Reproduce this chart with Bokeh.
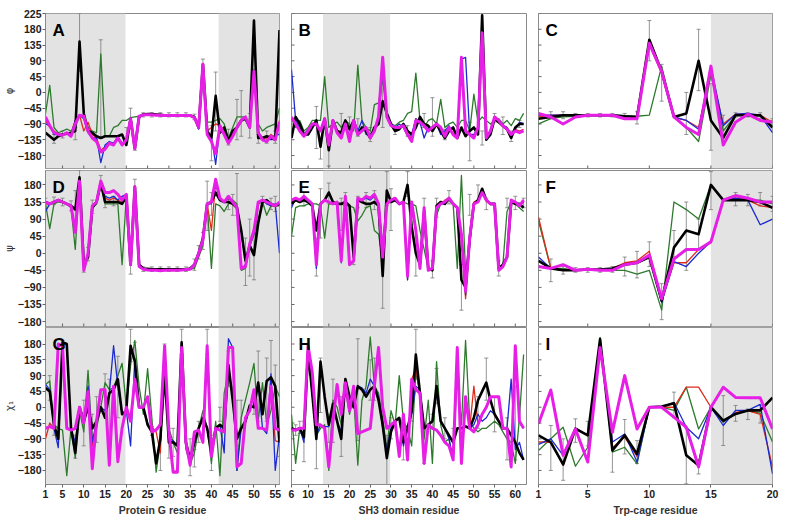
import math
from bokeh.plotting import figure
from bokeh.layouts import column, row
from bokeh.models import BoxAnnotation, Whisker, ColumnDataSource, Label, FixedTicker, TeeHead
from bokeh.embed import file_html
from bokeh.resources import INLINE

# ---------------- residues / ticks ----------------
res_pg = list(range(1, 57))
res_sh3 = list(range(6, 63))
res_tc = list(range(1, 21))
xticks_pg = [1, 5, 10, 15, 20, 25, 30, 35, 40, 45, 50, 55]
xticks_sh3 = [6, 10, 15, 20, 25, 30, 35, 40, 45, 50, 55, 60]
xticks_tc = [1, 5, 10, 15, 20]
yticks_phi = [-180, -135, -90, -45, 0, 45, 90, 135, 180, 225]
yticks_ang = [-180, -135, -90, -45, 0, 45, 90, 135, 180]
shade_pg = [(1, 19.8), (41.7, 56)]
shade_sh3 = [(13.6, 29.8)]
shade_tc = [(15, 20)]

# ---------------- Panel A: phi, Protein G ----------------
A_black = [-115,-125,-135,-125,-120,-118,-115,-110,145,-60,
           -110,-115,-125,-130,-125,-125,-125,-125,-120,-150,
           -75,-160,-70,-63,-62,-62,-63,-64,-65,-65,
           -65,-66,-65,-65,-66,-70,-100,80,-110,-130,
           -10,-115,-100,-140,-110,-100,-80,-75,-100,205,
           -130,-130,-125,-130,-135,178]
A_magenta = [-70,-95,-115,-120,-122,-115,-125,-90,-65,-68,
             -110,-130,-140,-170,-162,-145,-150,-130,-150,-135,
             -75,-160,-68,-64,-64,-64,-65,-65,-66,-66,
             -66,-66,-66,-66,-66,-72,-100,80,-120,-140,
             -175,-95,-120,-145,-125,-100,-80,-70,-100,60,
             -115,-135,-140,-125,-135,-85]
A_blue = [-90,-95,-120,-120,-120,-115,-120,-80,-65,-75,
          -115,-130,-130,-200,-150,-140,-145,-125,-145,-135,
          -75,-160,-68,-64,-64,-64,-65,-65,-66,-66,
          -66,-66,-66,-66,-66,-72,-105,75,-115,-125,
          -205,-100,-115,-145,-120,-100,-80,-70,-100,60,
          -115,-130,-125,-135,-120,-120]
A_red = [-80,-100,-110,-120,-120,-115,-115,-80,-65,-110,
         -85,-120,-130,-165,-155,-145,-145,-130,-145,-135,
         -75,-160,-68,-64,-64,-64,-65,-65,-66,-66,
         -66,-66,-66,-66,-66,-72,-100,80,-110,-100,
         -90,-95,-110,-140,-120,-100,-80,-70,-100,60,
         -115,-130,-130,-120,-130,-80]
A_green = [-60,20,-100,-115,-110,-105,-110,-100,-65,-70,
           -100,-110,-115,110,-125,-125,-100,-95,-80,-80,
           -72,-70,-68,-65,-65,-65,-65,-65,-65,-65,
           -65,-65,-65,-65,-66,-70,-95,80,-85,-85,
           -80,-75,-90,-130,-100,-70,-70,-70,-100,65,
           -90,-110,-100,-95,-90,-45]
A_err = [(3,-145,-120),(5,-130,-110),(8,-135,-100),(9,60,225),(14,-130,150),(20,-140,-100),
         (21,-85,-45),(22,-165,-150),(24,-70,-58),(26,-70,-58),(28,-70,-58),(30,-70,-58),
         (32,-70,-58),(34,-70,-58),(36,-78,-62),(38,60,95),(40,-195,-95),(41,-110,58),
         (44,-150,-105),(46,-135,-20),(47,-125,5),(49,-130,-60),(51,-145,-120),(53,-145,-110),(55,-145,-110)]

# ---------------- Panel B: phi, SH3 ----------------
B_black = [-130,-70,-90,-120,-120,-100,-80,-155,-75,-165,
           -80,-110,-115,-80,-105,-80,-120,-100,-110,-130,
           -100,-90,-25,-60,-90,-110,-105,-90,-110,-120,
           -100,-70,-90,-95,-110,-90,-110,-130,-110,-100,
           -130,-100,-125,-110,-100,-120,220,-135,-120,-75,
           -85,-95,-105,-130,-100,-90,-90]
B_magenta = [-70,-90,-110,-125,-110,-90,-90,-110,-75,-150,
             -80,-115,-130,-90,-140,-80,-120,-110,-100,-130,
             -110,-70,100,-70,-95,-100,-100,-95,-120,-140,
             -80,-85,-95,-110,-100,-90,-100,-125,-100,-120,
             -130,100,-110,-120,-130,-100,170,-130,-110,-70,
             -80,-95,-105,-120,-110,-115,-110]
B_blue = [65,-80,-100,-120,-105,-90,-95,-110,-75,-140,
          -85,-110,-125,-85,-130,-80,-110,-80,-120,-120,
          -110,-75,60,-65,-90,-100,-90,-100,-125,-120,
          -75,-85,-130,-100,-105,-90,-120,-110,-95,-120,
          -125,95,100,-120,-120,-100,170,-125,-110,-70,
          -80,-95,-100,-120,-105,-85,-90]
B_red = [-75,-90,-105,-120,-110,-90,-90,-110,-75,-145,
         -80,-115,-125,-90,-135,-80,-115,-110,-100,-125,
         -105,-70,80,-70,-95,-100,-100,-95,-120,-130,
         -75,-90,-95,-105,-100,-90,-100,-115,-100,-120,
         -125,95,-110,-120,-125,-100,170,-125,-110,-70,
         -80,-95,-100,-120,-105,-110,-105]
B_green = [-75,-100,-80,-110,-100,-80,-80,-80,45,-100,
           -90,-85,-100,-80,-90,-110,78,-80,-100,-110,
           -35,-30,40,-60,-90,-95,-85,-80,-60,-55,
           55,-80,-100,-80,-75,-90,-20,-100,-90,-85,
           -100,-80,-80,-110,-5,-85,-70,-80,-90,-80,
           -75,-90,-80,-95,-75,-80,-60]
B_err = [(12,-160,-40),(13,-190,-130),(15,-210,-120),(18,-125,-60),(20,-120,-70),(22,-125,-75),
         (25,-140,-100),(28,-100,35),(31,-120,-100),(34,-125,-95),(38,-100,-60),(40,-125,-15),
         (43,-135,-105),(49,-195,-85),(52,-150,-110),(55,-85,-60),(57,-120,-70),(59,-140,-110),(61,-100,-80)]

# ---------------- Panel C: phi, Trp-cage ----------------
C_black = [-75,-70,-65,-65,-65,-65,-65,-68,-70,150,60,-70,-60,90,-80,-130,-65,-65,-65,-100]
C_magenta = [-60,-70,-90,-70,-65,-65,-65,-75,-75,140,60,-70,-100,-120,75,-150,-85,-62,-80,-85]
C_blue = [-65,-65,-65,-65,-65,-65,-65,-68,-70,140,60,-70,-80,-105,75,-95,-62,-60,-65,-115]
C_red = [-70,-65,-65,-66,-65,-65,-66,-68,-70,135,55,-72,-80,-100,60,-90,-62,-62,-65,-85]
C_green = [-90,-75,-70,-68,-65,-65,-65,-66,-68,-65,75,-70,-100,-140,50,-110,-65,-65,-68,-95]
C_err = [(2,-75,-55),(3,-75,-55),(4,-70,-60),(5,-70,-60),(6,-70,-60),(7,-70,-60),(8,-70,-60),
         (9,-90,-55),(10,90,205),(11,-25,80),(13,-120,0),(14,5,180),(15,-165,25),(16,-120,-65),
         (17,-70,-58),(18,-70,-58),(19,-75,-58),(20,-80,-75)]

# ---------------- Panel D: psi, Protein G ----------------
D_black = [135,130,135,140,135,130,125,115,200,-30,
           -10,120,135,185,135,135,135,135,130,150,
           -30,175,-30,-40,-41,-42,-42,-42,-42,-42,
           -42,-42,-42,-42,-40,-30,0,40,130,135,
           160,140,135,135,130,120,60,-20,20,-5,
           80,135,140,130,125,130]
D_magenta = [135,130,135,140,135,130,125,55,190,-45,
             0,125,135,190,160,160,165,155,140,155,
             -30,175,-35,-42,-44,-45,-45,-46,-45,-45,
             -45,-45,-44,-43,-42,-30,0,35,130,135,
             195,145,135,150,135,120,-40,-35,25,60,
             135,140,135,130,125,135]
D_blue = [110,130,135,140,135,130,125,60,185,-40,
          0,125,135,185,150,145,150,140,150,155,
          -30,175,-35,-42,-44,-45,-45,-46,-45,-45,
          -45,-45,-44,-43,-42,-30,0,35,130,130,
          185,140,135,145,135,120,-40,-30,20,50,
          135,140,130,125,130,0]
D_red = [130,130,135,140,135,130,125,60,190,-40,
         0,120,135,185,145,140,145,140,135,155,
         -30,175,-35,-42,-44,-45,-45,-46,-45,-45,
         -45,-45,-44,-43,-42,-30,0,35,130,60,
         185,140,135,145,135,120,-40,-35,20,50,
         135,140,135,125,125,130]
D_green = [130,65,130,135,135,130,120,10,195,-40,
           -10,120,130,185,130,130,130,130,-30,150,
           -30,175,-30,-40,-42,-42,-43,-43,-43,-43,
           -43,-43,-43,-42,-42,-40,-10,20,130,-40,
           130,125,110,130,140,130,-45,-40,20,0,
           130,135,100,125,125,125]
D_err = [(1,125,145),(3,128,148),(5,125,145),(7,112,138),(8,60,165),(9,175,218),(10,-50,-15),
         (11,-20,15),(12,105,140),(14,165,205),(15,120,150),(17,125,150),(21,-55,-20),(22,155,195),
         (24,-48,-36),(26,-48,-36),(28,-48,-36),(30,-48,-36),(32,-48,-36),(34,-48,-36),(36,-45,-15),
         (37,-15,20),(38,10,55),(39,60,190),(40,100,160),(44,115,150),(45,100,155),(46,100,210),
         (48,-85,40),(49,-60,90),(50,-70,60),(52,125,150),(54,115,145),(55,110,150)]

# ---------------- Panel E: psi, SH3 ----------------
E_black = [130,140,135,140,135,125,60,130,140,160,
           135,130,130,135,125,-10,140,135,130,130,
           135,125,-60,165,135,140,130,135,180,70,
           0,-30,110,-40,-45,125,135,130,145,130,
           120,-70,-90,40,130,140,170,140,130,130,
           -40,-30,-10,135,130,130,120]
E_magenta = [140,145,140,150,140,130,-30,130,140,135,
             130,135,-20,150,-30,-20,145,140,150,145,
             155,130,-10,130,140,145,130,135,-60,135,
             60,-40,120,-45,-40,120,130,135,145,130,
             120,50,-100,40,130,135,160,140,130,130,
             -45,-35,-10,140,135,125,140]
E_blue = [120,145,140,145,140,130,-40,130,140,135,
          130,135,-25,150,-30,-20,145,140,145,140,
          150,130,20,130,140,145,130,135,-70,135,
          60,-40,120,-45,-40,120,130,135,145,130,
          120,50,-110,40,130,135,160,140,130,130,
          -45,-35,-10,140,135,125,135]
E_red = [135,145,140,150,140,130,-30,130,140,135,
         130,135,-20,150,-30,-20,145,140,150,145,
         150,130,-10,130,140,145,130,135,-70,135,
         60,-40,120,-45,-40,120,130,140,145,130,
         120,50,-120,40,135,140,160,140,130,130,
         -45,-35,-10,140,135,125,135]
E_green = [45,120,125,125,130,130,130,125,40,130,
           130,130,130,125,125,120,85,100,120,125,
           60,50,-20,135,135,140,130,135,130,130,
           125,60,10,-40,-40,100,130,130,140,130,
           -40,205,-50,20,130,140,165,140,130,130,
           -40,-30,110,135,130,120,110]
E_err = [(9,125,160),(12,-60,40),(13,40,170),(15,130,185),(18,60,145),(19,100,160),(21,-30,30),
         (22,120,150),(24,120,160),(26,115,165),(28,-145,30),(29,125,215),(30,60,170),(34,150,215),
         (36,-60,40),(38,60,145),(40,-65,-20),(41,95,145),(44,130,165),(47,-150,-30),(49,100,155),
         (51,140,180),(53,115,145),(56,-60,-20),(58,120,145),(60,115,150),(62,120,145)]

# ---------------- Panel F: psi, Trp-cage ----------------
F_black = [-20,-40,-45,-45,-43,-43,-40,-30,-25,-10,-125,15,60,50,180,140,140,140,135,120]
F_magenta = [-35,-40,-30,-45,-42,-45,-45,-30,-25,-5,-120,-15,10,10,30,140,152,145,135,135]
F_blue = [-10,-40,-45,-45,-43,-43,-40,-30,-25,-10,-130,-22,-35,0,30,140,145,140,75,90]
F_red = [95,-40,-45,-45,-43,-43,-40,-25,-20,5,-125,-25,-25,10,30,140,150,140,125,120]
F_green = [85,-40,-40,-45,-43,-43,-45,-45,-55,-45,-150,135,115,90,180,140,140,140,140,130]
F_err = [(2,-75,-15),(3,-55,-35),(4,-50,-38),(5,-50,-38),(6,-50,-38),(7,-50,-35),(8,-60,-10),
         (9,-65,5),(10,-35,30),(11,-175,-80),(12,-10,60),(13,-45,135),(14,10,90),(15,115,215),
         (17,125,160),(18,125,155),(19,125,160),(20,110,150)]

# ---------------- Panel G: chi1, Protein G ----------------
G_black = [55,45,-50,-90,185,180,-60,-130,0,-40,
           0,-60,-40,0,-30,40,50,80,-20,-10,
           175,130,0,0,-50,-70,-160,-90,100,-100,
           -100,-110,185,-100,-150,-100,-60,-30,-60,-130,
           -60,-50,-60,120,20,-90,-60,-40,5,0,
           70,-20,75,85,60,-100]
G_magenta = [-60,-55,-60,180,175,-60,-65,-60,0,-45,
             45,-175,-40,50,50,-165,60,-155,-60,0,
             -40,80,0,0,30,-70,-65,-50,175,-70,
             -185,-185,170,-100,-165,-70,-65,-100,175,-140,
             -60,-65,-70,170,170,-170,-160,-30,-10,50,
             -60,-60,-65,60,-60,-65]
G_blue = [65,50,-60,-115,175,-60,-60,-100,0,-40,
          60,-100,-40,0,-10,40,175,60,-20,-10,
          -110,140,0,0,-45,-70,-160,-90,90,-90,
          -95,-110,175,-100,-150,-100,-60,-30,-60,-130,
          -60,-50,-130,195,170,-180,-60,-40,5,0,
          70,-60,-75,95,-180,-80]
G_red = [-90,-45,-60,175,175,-60,-65,-60,0,-45,
         45,-110,-40,50,50,-165,60,-155,-60,0,
         -40,80,0,0,30,-55,-70,-130,175,-70,
         -185,-180,170,-100,-165,-70,-65,-100,175,-140,
         -60,-65,-70,170,170,-165,-160,-30,-10,50,
         -60,-60,-65,60,-95,-100]
G_green = [65,75,-50,-60,-65,-195,-60,-145,-10,-70,
           105,-100,-60,0,70,50,55,90,125,0,
           120,190,60,-20,110,-30,-185,-100,80,-60,
           -100,-130,170,-120,-160,-130,-60,-10,-60,-160,
           -40,-195,40,100,50,-180,-30,20,70,125,
           -40,70,-50,-10,60,30]
G_err = [(2,20,90),(3,-80,-20),(8,-145,-80),(10,-110,20),(12,-90,-20),(13,-100,30),(15,-20,95),
         (16,-80,80),(18,-30,145),(21,130,222),(22,75,185),(26,-80,-55),(28,-180,-50),(29,70,180),
         (30,-145,-60),(31,-140,-60),(33,150,222),(35,-195,-90),(36,-170,-120),(37,-100,-40),
         (39,150,222),(40,-180,-80),(42,-40,0),(44,60,160),(46,-110,20),(47,-60,20),(50,-20,25),
         (51,-40,160),(53,-40,140),(54,40,190),(55,-30,120),(56,-140,-60)]

# ---------------- Panel H: chi1, SH3 ----------------
H_black = [-60,-65,-60,-85,160,40,-90,130,30,-50,
           10,-40,-90,80,30,0,60,50,30,50,
           60,20,-50,-145,-70,-40,-30,-100,-60,-10,
           150,40,-60,-50,-40,60,-40,-60,-80,-100,
           -60,-60,-55,-60,-30,20,45,70,20,-20,
           -40,-60,-60,-80,-100,-130,-150]
H_magenta = [-65,-65,-60,-60,175,100,-50,-50,-60,-170,
             -40,65,-20,70,-10,60,-75,-70,-65,-60,
             60,170,0,-60,-50,-40,-140,-20,-150,80,
             50,40,-160,-50,-60,-65,-80,-100,-110,-150,
             170,-160,30,-60,-70,-50,-20,0,30,30,
             30,-60,-60,-170,175,-40,-60]
H_blue = [-60,-65,-60,-100,165,40,-80,-50,-55,-55,
          0,-40,-70,80,30,10,60,55,40,80,
          60,30,-60,-120,-60,-40,-30,-110,-60,-20,
          60,50,-60,-50,-40,40,-40,-60,-90,-150,
          170,-150,30,-60,-50,-20,-40,-30,-10,-20,
          -40,-60,-60,80,-120,-100,-150]
H_red = [-65,-65,-60,-60,175,100,-50,-50,-60,-170,
         -40,65,-20,70,-10,60,-75,-70,-65,-60,
         60,170,0,-60,-50,-40,-140,-20,-150,80,
         110,40,-160,-50,-60,-65,-80,-100,-110,-150,
         170,-160,30,-60,60,-50,-20,0,30,30,
         30,-60,-60,-170,175,-40,-60]
H_green = [-20,-160,-60,-60,160,40,-80,-60,-50,-180,
           20,0,-50,50,-20,30,-165,20,60,200,
           60,40,-30,-120,-10,-50,90,-40,-60,-110,
           100,40,-90,20,-160,130,-50,-100,-90,-150,
           100,-50,190,-40,-60,-70,-60,-60,-50,-40,
           -50,-70,-90,-100,-160,-30,150]
H_err = [(7,-80,-50),(8,-75,-40),(9,-155,-40),(12,-175,-50),(13,-15,140),(15,-100,-20),(16,-100,80),
         (18,-140,30),(22,-95,195),(25,20,135),(26,20,140),(29,-220,-80),(30,-90,-30),(33,-150,-60),
         (35,-40,60),(36,80,222),(38,-160,-60),(40,-60,-20),(41,10,110),(43,-90,-30),(45,-130,-60),
         (51,-60,30),(53,20,140),(55,-70,30),(58,-150,-30),(60,-150,60)]

# ---------------- Panel I: chi1, Trp-cage ----------------
I_black = [-80,-100,-163,-61,-80,194,-123,-80,-133,0,2,11,-137,-166,0,-38,-19,-9,-9,27]
I_magenta = [-47,49,-137,-62,-156,170,-71,90,-62,0,0,-28,-57,-170,0,57,28,27,27,-62]
I_blue = [-106,-90,-137,-60,-80,185,-99,-76,-156,0,0,14,-57,-90,0,-52,-9,-9,8,-190]
I_red = [-99,-99,-166,-60,-80,185,-115,-85,-140,0,0,0,57,57,0,-40,-15,-10,-20,-170]
I_green = [-123,-90,-57,-168,-114,199,-128,-114,-161,0,0,-9,57,-62,0,-43,-19,-10,-17,-99]
I_err = [(2,-180,-52),(3,-208,-90),(4,-100,-33),(5,-110,-40),(7,-185,-71),(8,-133,-35),(9,-160,-95),
         (12,-30,43),(13,-218,-60),(14,-190,-150),(16,-109,33),(17,-40,5),(18,-35,-5),(19,-45,5)]

# ---------------- styling ----------------
COLORS = {"green": "#2d7a2d", "red": "#e02b1b", "blue": "#1a2ad0", "black": "#000000", "magenta": "#e61ee6"}
WIDTHS = {"green": 1.3, "red": 1.3, "blue": 1.3, "black": 2.6, "magenta": 3.0}
ORDER = ["green", "red", "blue", "black", "magenta"]
FRAME_W = [234, 235, 234]
FRAME_H = [155, 156, 157]
BL = [35, 6, 6]
BR = [6, 6, 7]
BT = [13, 1, 0]
BB = [1, 1, 30]
FONT = "Liberation Sans"
FRAME_COLOR = "#8a8a8a"
TICK_COLOR = "#666666"


def make_panel(letter, res, s, errs, xlim, ylim, yticks, xticks, shades, col, rw, xlabel=None, ylabel=None):
    p = figure(frame_width=FRAME_W[col], frame_height=FRAME_H[rw], x_range=xlim, y_range=ylim,
               output_backend="svg", toolbar_location=None,
               x_axis_location=("below" if rw == 2 else None),
               y_axis_location=("left" if col == 0 else None),
               min_border_left=BL[col], min_border_right=BR[col],
               min_border_top=BT[rw], min_border_bottom=BB[rw])
    p.outline_line_color = FRAME_COLOR
    p.outline_line_width = 1
    p.xgrid.visible = False
    p.ygrid.visible = False
    for a, b in shades:
        p.add_layout(BoxAnnotation(left=a, right=b, fill_color="#e3e3e3", fill_alpha=1.0,
                                   line_alpha=0, level="underlay"))
    # inner tick marks where no labelled axis exists
    if rw != 2:
        p.scatter(xticks, [ylim[0]] * len(xticks), marker="dash", angle=math.pi / 2, size=6,
                  line_color=TICK_COLOR, line_width=1)
    if col != 0:
        p.scatter([xlim[0]] * len(yticks), yticks, marker="dash", size=6,
                  line_color=TICK_COLOR, line_width=1)
    for name in ORDER:
        p.line(res, s[name], line_color=COLORS[name], line_width=WIDTHS[name], line_join="round")
    src = ColumnDataSource(dict(x=[e[0] for e in errs], lo=[e[1] for e in errs], hi=[e[2] for e in errs]))
    p.add_layout(Whisker(base="x", lower="lo", upper="hi", source=src, line_color="#7a7a7a", line_width=0.8,
                         upper_head=TeeHead(size=4, line_color="#7a7a7a", line_width=0.8),
                         lower_head=TeeHead(size=4, line_color="#7a7a7a", line_width=0.8)))
    p.add_layout(Label(x=xlim[0], y=ylim[1], x_offset=7, y_offset=-7, text=letter,
                       text_font=FONT, text_font_style="bold", text_font_size="17px",
                       text_baseline="top", text_color="black"))
    if rw == 2:
        xa = p.xaxis[0]
        xa.ticker = FixedTicker(ticks=xticks)
        xa.axis_line_color = FRAME_COLOR
        xa.major_tick_line_color = TICK_COLOR
        xa.minor_tick_line_color = None
        xa.major_label_text_font = FONT
        xa.major_label_text_font_style = "bold"
        xa.major_label_text_font_size = "10.5px"
        xa.major_label_text_color = "#222222"
        xa.major_label_standoff = 2
        xa.major_tick_out = 3
        xa.major_tick_in = 0
        xa.axis_label = xlabel
        xa.axis_label_text_font = FONT
        xa.axis_label_text_font_style = "bold"
        xa.axis_label_text_font_size = "10.5px"
        xa.axis_label_text_color = "#333333"
        xa.axis_label_standoff = 3
    if col == 0:
        ya = p.yaxis[0]
        ya.ticker = FixedTicker(ticks=yticks)
        ya.axis_line_color = FRAME_COLOR
        ya.major_tick_line_color = TICK_COLOR
        ya.minor_tick_line_color = None
        ya.major_label_text_font = FONT
        ya.major_label_text_font_style = "bold"
        ya.major_label_text_font_size = "10.5px"
        ya.major_label_text_color = "#222222"
        ya.major_label_standoff = 1
        ya.major_tick_out = 3
        ya.major_tick_in = 0
        ya.axis_label = ylabel
        ya.axis_label_text_font = "DejaVu Sans"
        ya.axis_label_text_font_style = "normal"
        ya.axis_label_text_font_size = "10px"
        ya.axis_label_text_color = "#333333"
        ya.axis_label_standoff = 0
    return p


def S(k, m, b, r, g):
    return {"black": k, "magenta": m, "blue": b, "red": r, "green": g}


R1 = (-217, 225)
R2 = (-193, 218)
R3 = (-220, 227)
XPG = (1, 56)
XSH = (6, 62.7)
XTC = (1, 20)

pA = make_panel("A", res_pg, S(A_black, A_magenta, A_blue, A_red, A_green), A_err, XPG, R1, yticks_phi, xticks_pg, shade_pg, 0, 0, ylabel="φ")
pB = make_panel("B", res_sh3, S(B_black, B_magenta, B_blue, B_red, B_green), B_err, XSH, R1, yticks_phi, xticks_sh3, shade_sh3, 1, 0)
pC = make_panel("C", res_tc, S(C_black, C_magenta, C_blue, C_red, C_green), C_err, XTC, R1, yticks_phi, xticks_tc, shade_tc, 2, 0)
pD = make_panel("D", res_pg, S(D_black, D_magenta, D_blue, D_red, D_green), D_err, XPG, R2, yticks_ang, xticks_pg, shade_pg, 0, 1, ylabel="ψ")
pE = make_panel("E", res_sh3, S(E_black, E_magenta, E_blue, E_red, E_green), E_err, XSH, R2, yticks_ang, xticks_sh3, shade_sh3, 1, 1)
pF = make_panel("F", res_tc, S(F_black, F_magenta, F_blue, F_red, F_green), F_err, XTC, R2, yticks_ang, xticks_tc, shade_tc, 2, 1)
pG = make_panel("G", res_pg, S(G_black, G_magenta, G_blue, G_red, G_green), G_err, XPG, R3, yticks_ang, xticks_pg, shade_pg, 0, 2, xlabel="Protein G residue", ylabel="χ₁")
pH = make_panel("H", res_sh3, S(H_black, H_magenta, H_blue, H_red, H_green), H_err, XSH, R3, yticks_ang, xticks_sh3, shade_sh3, 1, 2, xlabel="SH3 domain residue")
pI = make_panel("I", res_tc, S(I_black, I_magenta, I_blue, I_red, I_green), I_err, XTC, R3, yticks_ang, xticks_tc, shade_tc, 2, 2, xlabel="Trp-cage residue")

layout = column(row(pA, pB, pC), row(pD, pE, pF), row(pG, pH, pI))

open("out.html", "w").write(file_html(layout, INLINE))
